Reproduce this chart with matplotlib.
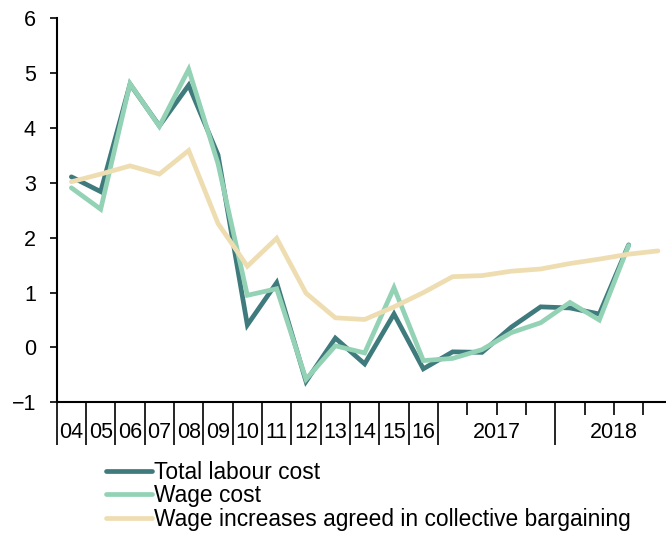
import matplotlib
matplotlib.use("Agg")
import matplotlib.pyplot as plt
from matplotlib.lines import Line2D

plt.rcParams['font.family'] = ['Liberation Sans', 'DejaVu Sans']

# Categories: annual 2004-2016, then quarterly 2017 and 2018
annual_labels = ["04", "05", "06", "07", "08", "09", "10", "11", "12", "13", "14", "15", "16"]
year_labels = ["2017", "2018"]
quarters_per_year = 4

total_labour_cost = [3.11, 2.84, 4.80, 4.04, 4.78, 3.51, 0.41, 1.18, -0.62, 0.17, -0.30,
                     0.61, -0.39, -0.08, -0.09, 0.37, 0.74, 0.72, 0.61, 1.87]
wage_cost = [2.91, 2.52, 4.81, 4.03, 5.07, 3.35, 0.95, 1.07, -0.58, 0.03, -0.10,
             1.09, -0.24, -0.20, -0.04, 0.27, 0.45, 0.82, 0.50, 1.86]
collective_bargaining = [3.02, 3.16, 3.31, 3.16, 3.59, 2.26, 1.48, 1.99, 0.99, 0.54, 0.51,
                         0.74, 1.00, 1.29, 1.31, 1.39, 1.43, 1.53, 1.61, 1.70, 1.76]

series_names = ["Total labour cost", "Wage cost", "Wage increases agreed in collective bargaining"]
colors = ["#3F7A7D", "#93D2B5", "#EFDDB2"]

n_cat = len(annual_labels) + quarters_per_year * len(year_labels)

fig = plt.figure(figsize=(6.66, 5.34), dpi=100)
ax = fig.add_axes([56.7 / 666, 131.7 / 534, (21 * 29.33) / 666, 384.0 / 534])

for vals, c, name in zip([total_labour_cost, wage_cost, collective_bargaining], colors, series_names):
    xs = [i + 0.5 for i in range(len(vals))]
    ax.plot(xs, vals, color=c, lw=3.4, label=name, solid_capstyle='round', solid_joinstyle='miter')

ax.set_xlim(0, n_cat)
ax.set_ylim(-1, 6)
ax.set_yticks(range(-1, 7))
ax.tick_params(axis='y', direction='out', length=5, width=1.2, labelsize=15.5, pad=10, color='black')

for s in ['top', 'right']:
    ax.spines[s].set_visible(False)
for s in ['left', 'bottom']:
    ax.spines[s].set_linewidth(1.5)
    ax.spines[s].set_color('black')

# x ticks: long separators between annual categories and years, short ticks for quarters
n_ann = len(annual_labels)
major = list(range(0, n_ann + 1)) + [n_ann + quarters_per_year * (k + 1) for k in range(len(year_labels))]
minor = [n_ann + quarters_per_year * k + q for k in range(len(year_labels)) for q in range(1, quarters_per_year)]
ax.set_xticks(major)
ax.set_xticks(minor, minor=True)
ax.tick_params(axis='x', which='major', direction='out', length=31, width=1.2, labelbottom=False)
ax.tick_params(axis='x', which='minor', direction='out', length=9, width=1.2, labelbottom=False)

trans = ax.get_xaxis_transform()
for i, lab in enumerate(annual_labels):
    ax.annotate(lab, xy=(i + 0.5, 0), xycoords=trans, xytext=(0, -22), textcoords='offset points',
                ha='center', va='center', fontsize=15.5)
for k, lab in enumerate(year_labels):
    center = n_ann + quarters_per_year * k + quarters_per_year / 2
    ax.annotate(lab, xy=(center, 0), xycoords=trans, xytext=(0, -22), textcoords='offset points',
                ha='center', va='center', fontsize=15.5)

handles = [Line2D([0], [0], color=c, lw=3.4, solid_capstyle='round') for c in colors]
fig.legend(handles, series_names, loc='upper left', bbox_to_anchor=(106 / 666, 1 - 461 / 534),
           frameon=False, fontsize=16.4, handlelength=2.0, handletextpad=0.12, labelspacing=0.02,
           borderpad=0, borderaxespad=0)

fig.savefig("out.png", dpi=100)
